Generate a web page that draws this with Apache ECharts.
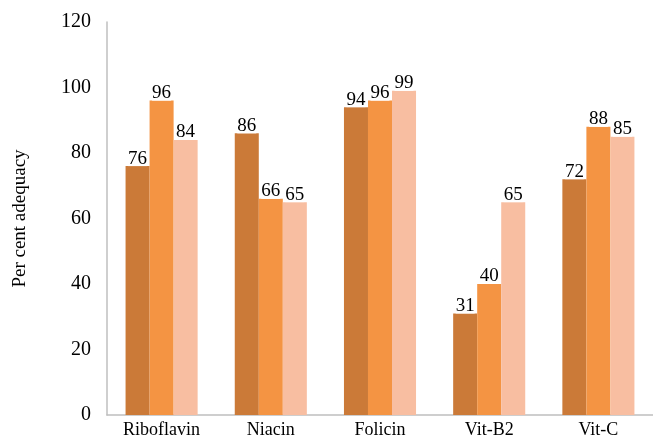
<!DOCTYPE html>
<html>
<head>
<meta charset="utf-8">
<script src="https://cdn.jsdelivr.net/npm/echarts@6/dist/echarts.min.js"></script>
<style>
html,body{margin:0;padding:0;background:#fff;}
#chart{width:653px;height:439px;}
</style>
</head>
<body>
<div id="chart"></div>
<script>
const categories = ['Riboflavin', 'Niacin', 'Folicin', 'Vit-B2', 'Vit-C'];
const seriesA = [76, 86, 94, 31, 72];
const seriesB = [96, 66, 96, 40, 88];
const seriesC = [84, 65, 99, 65, 85];
const colors = ['#CB7A38', '#F49443', '#F8BEA1'];

const font = '"Liberation Serif", "DejaVu Serif", serif';

function bar(data, color) {
  return {
    type: 'bar',
    data: data,
    barGap: '0%',
    barCategoryGap: '34%',
    itemStyle: { color: color },
    label: {
      show: true,
      position: 'top',
      distance: 0,
      color: '#000',
      fontFamily: font,
      fontSize: 19,
      backgroundColor: '#fff',
      padding: [8, 0, -2, 0]
    }
  };
}

const chart = echarts.init(document.getElementById('chart'), null, { renderer: 'canvas' });
chart.setOption({
  backgroundColor: '#fff',
  animation: false,
  grid: { left: 107, top: 22, width: 551, bottom: 24 },
  xAxis: {
    type: 'category',
    data: categories,
    axisLine: { lineStyle: { color: '#bfbfbf', width: 1.5 } },
    axisTick: { show: false },
    axisLabel: { color: '#000', fontFamily: font, fontSize: 18, margin: 6 }
  },
  yAxis: {
    type: 'value',
    min: 0,
    max: 120,
    interval: 20,
    name: 'Per cent adequacy',
    nameLocation: 'middle',
    nameGap: 77,
    nameTextStyle: { color: '#000', fontFamily: font, fontSize: 19 },
    axisLine: { show: true, lineStyle: { color: '#bfbfbf', width: 1.5 } },
    axisTick: { show: false },
    splitLine: { show: false },
    axisLabel: { color: '#000', fontFamily: font, fontSize: 20, margin: 16 }
  },
  series: [bar(seriesA, colors[0]), bar(seriesB, colors[1]), bar(seriesC, colors[2])]
});
</script>
</body>
</html>
